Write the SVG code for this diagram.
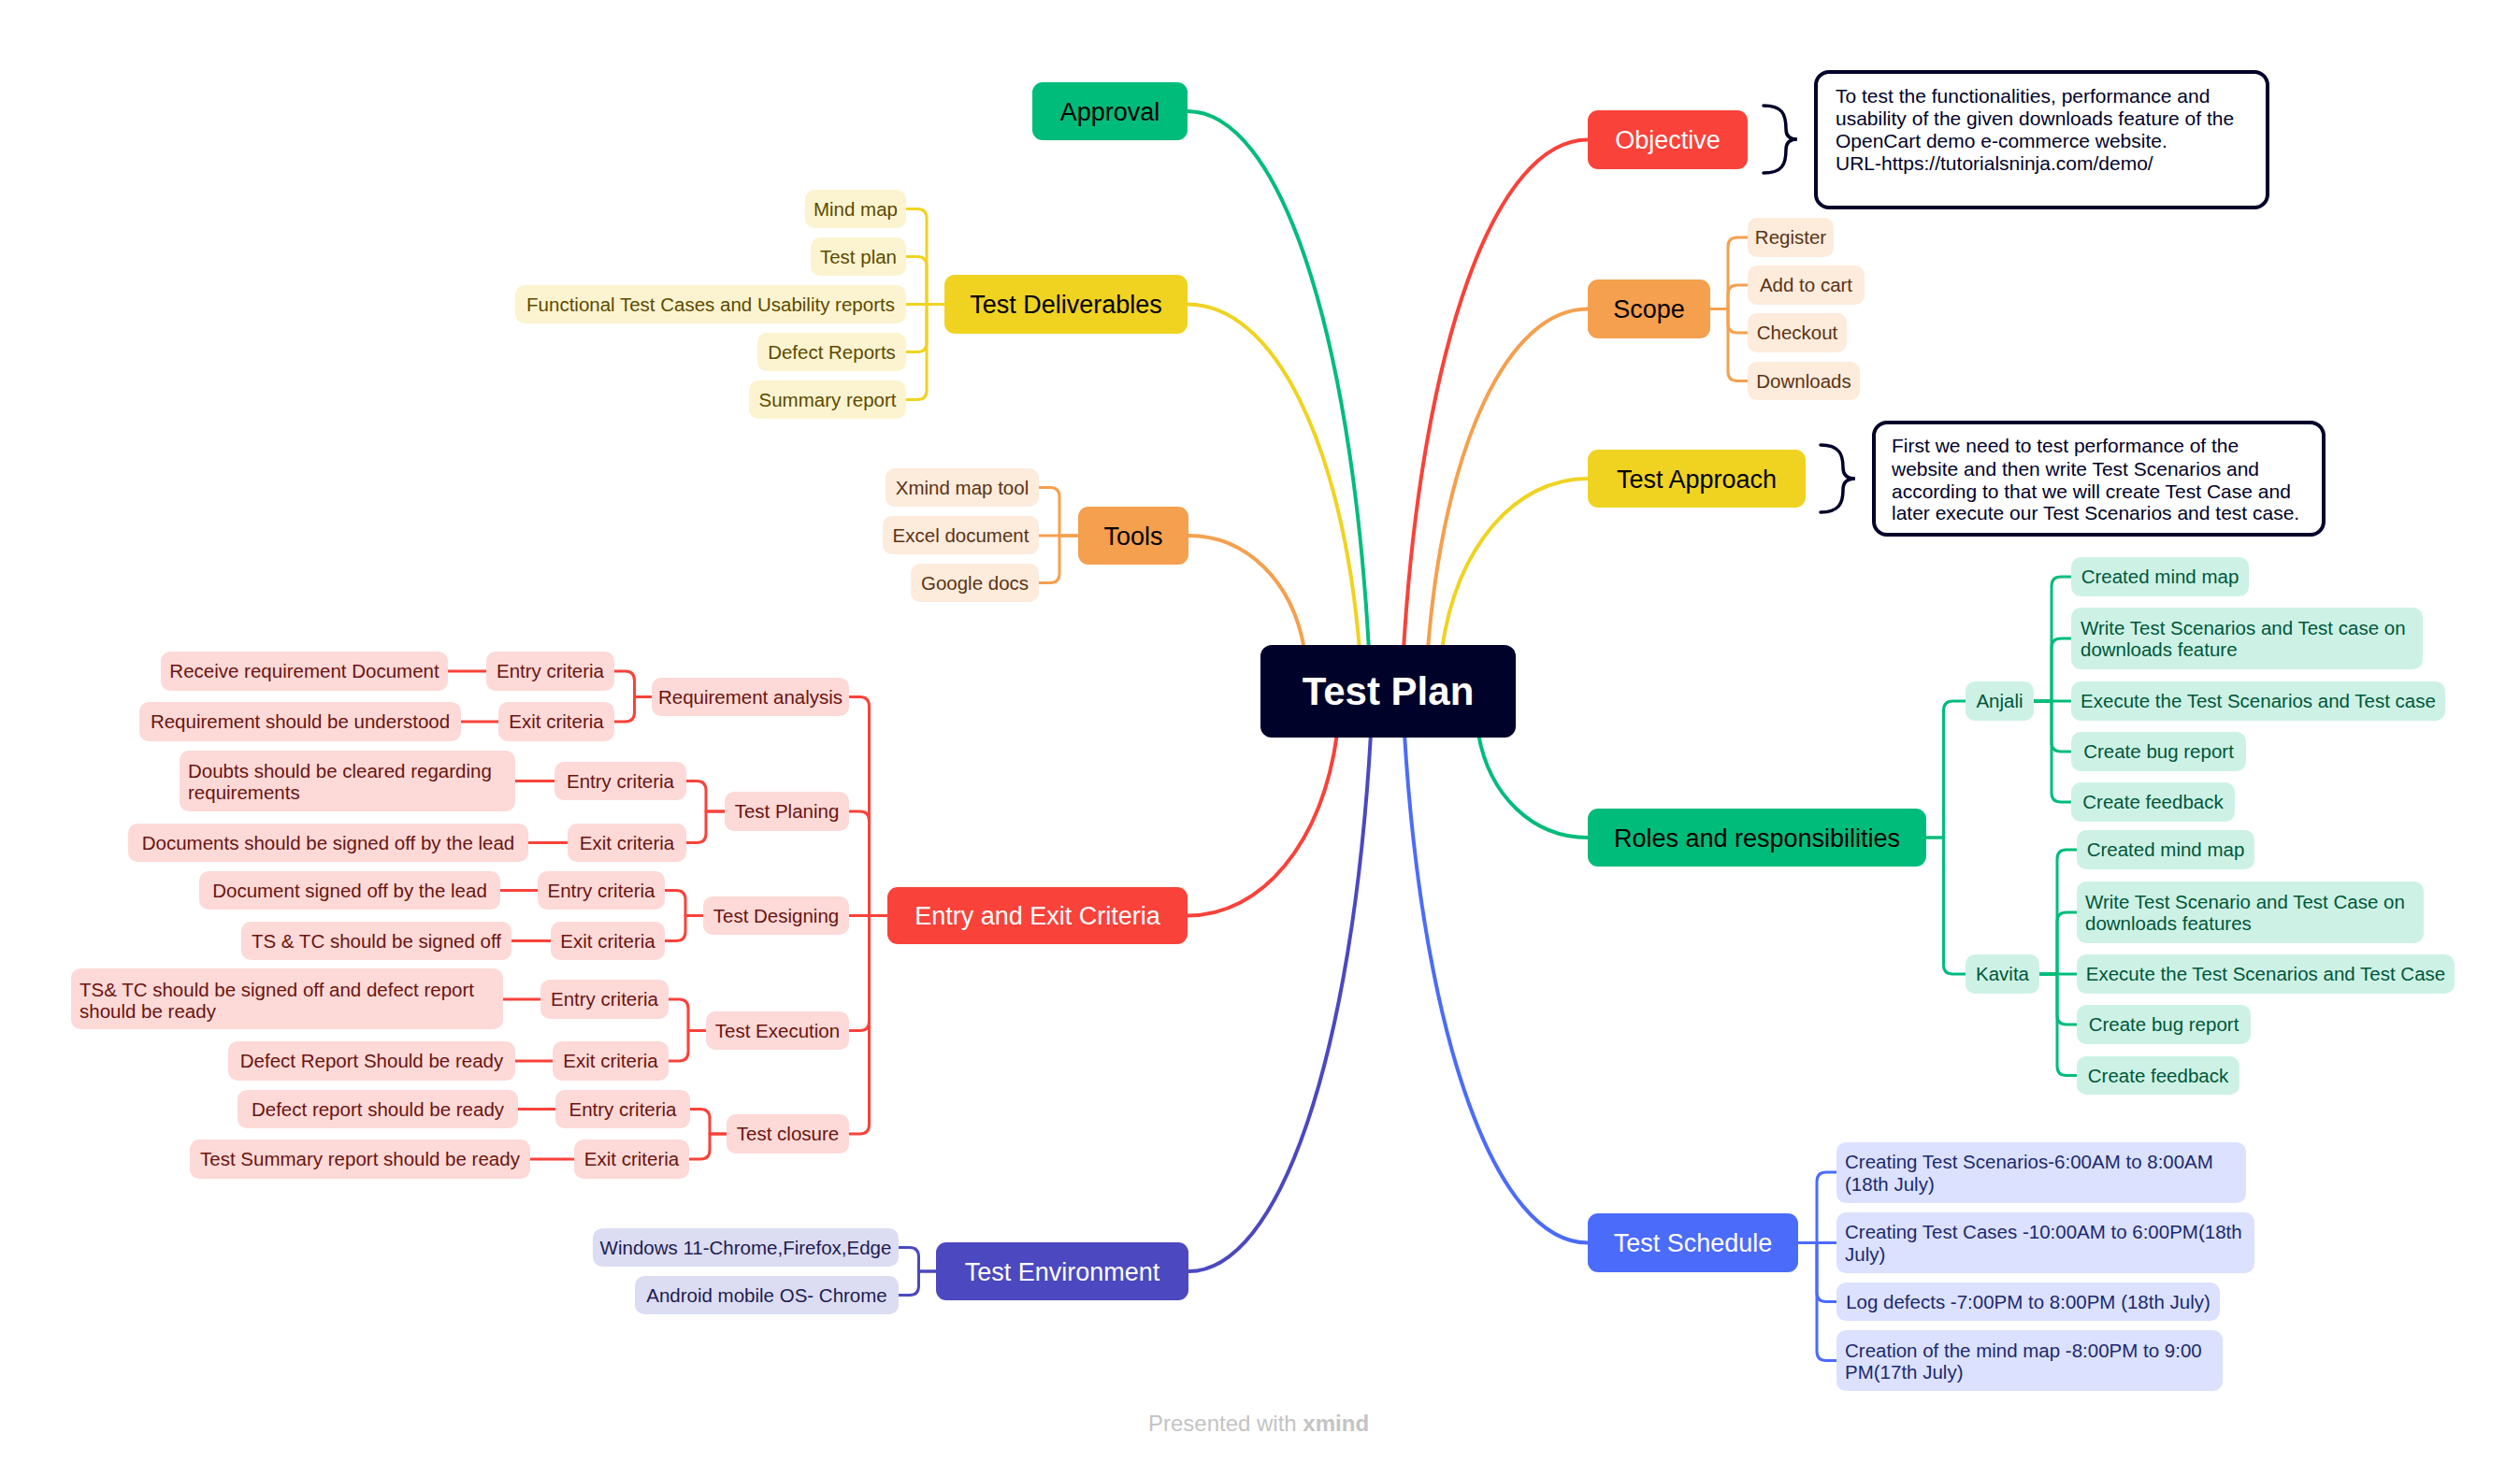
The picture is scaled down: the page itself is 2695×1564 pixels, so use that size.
<svg xmlns="http://www.w3.org/2000/svg" width="2695" height="1564" viewBox="0 0 2695 1564">
<style>
text{font-family:"Liberation Sans",Arial,sans-serif}
.mt{font-size:27px}
.st{font-size:20.5px}
.nt{font-size:21px;fill:#000229}
.c{text-anchor:middle}
.w{fill:#ffffff}
.k{fill:#000000}
.cn path{fill:none;stroke-width:3;stroke-linecap:round;stroke-linejoin:round}
.cn path.main{stroke-width:4}
.sg{stroke:#00BC7B}.sy{stroke:#F0D321}.so{stroke:#F5A04E}.sr{stroke:#F9423A}.si{stroke:#4C48C0}.sb{stroke:#4B6BFB}
.ry rect{fill:#FCF4D0}.ry text{fill:#5C4A00}
.ro rect{fill:#FDEBDC}.ro text{fill:#5A3414}
.rr rect{fill:#FDD9D7}.rr text{fill:#6A1410}
.rg rect{fill:#CDF2E5}.rg text{fill:#00563A}
.rb rect{fill:#DBE1FE}.rb text{fill:#1B2A6E}
.ri rect{fill:#DCDCF3}.ri text{fill:#1E1C50}
.note{fill:#ffffff;stroke:#000229;stroke-width:4}
.brace{fill:none;stroke:#000229;stroke-width:3.5;stroke-linecap:round}
</style>
<rect width="2695" height="1564" fill="#ffffff"/>

<g id="connectors" class="cn">
  <path class="main sg" d="M1270,119 C1367,119 1444.6,348 1464,695"/>
  <path class="main sy" d="M1270,325.5 C1362,325.5 1435.6,473.3 1454,695"/>
  <path class="main so" d="M1271,573 C1333,573 1382.6,621.8 1395,695"/>
  <path class="main sr" d="M1270,979.5 C1350,979.5 1414,901.7 1430,785"/>
  <path class="main si" d="M1271,1360 C1368.5,1360 1446.5,1130 1466,785"/>
  <path class="main sr" d="M1698,149.5 C1599.5,149.5 1520.7,367.7 1501,695"/>
  <path class="main so" d="M1698,330.5 C1612.5,330.5 1544.1,476.3 1527,695"/>
  <path class="main sy" d="M1698,512 C1620,512 1557.6,585.2 1542,695"/>
  <path class="main sg" d="M1698,896 C1639.5,896 1592.7,851.6 1581,785"/>
  <path class="main sb" d="M1698,1329.5 C1600,1329.5 1521.6,1111.7 1502,785"/>

  <path class="so" d="M1829,330.5 H1848 V264 Q1848,254 1858,254 H1869"/>
  <path class="so" d="M1829,330.5 H1848 V315 Q1848,305 1858,305 H1869"/>
  <path class="so" d="M1829,330.5 H1848 V346 Q1848,356 1858,356 H1869"/>
  <path class="so" d="M1829,330.5 H1848 V397.5 Q1848,407.5 1858,407.5 H1869"/>

  <path class="sg" d="M2060,896 H2078.5 V760 Q2078.5,750 2088.5,750 H2102"/>
  <path class="sg" d="M2060,896 H2078.5 V1032 Q2078.5,1042 2088.5,1042 H2102"/>

  <path class="sg" d="M2175,750 H2194 V627 Q2194,617 2204,617 H2215"/>
  <path class="sg" d="M2175,750 H2194 V693 Q2194,683 2204,683 H2215"/>
  <path class="sg" d="M2175,750 H2215"/>
  <path class="sg" d="M2175,750 H2194 V794 Q2194,804 2204,804 H2215"/>
  <path class="sg" d="M2175,750 H2194 V848 Q2194,858 2204,858 H2215"/>

  <path class="sg" d="M2181,1042 H2200 V919 Q2200,909 2210,909 H2221"/>
  <path class="sg" d="M2181,1042 H2200 V986 Q2200,976 2210,976 H2221"/>
  <path class="sg" d="M2181,1042 H2221"/>
  <path class="sg" d="M2181,1042 H2200 V1086 Q2200,1096 2210,1096 H2221"/>
  <path class="sg" d="M2181,1042 H2200 V1140.5 Q2200,1150.5 2210,1150.5 H2221"/>

  <path class="sb" d="M1923,1329.5 H1943 V1264 Q1943,1254 1953,1254 H1964"/>
  <path class="sb" d="M1923,1329.5 H1964"/>
  <path class="sb" d="M1923,1329.5 H1943 V1382.5 Q1943,1392.5 1953,1392.5 H1964"/>
  <path class="sb" d="M1923,1329.5 H1943 V1445.5 Q1943,1455.5 1953,1455.5 H1964"/>

  <path class="sy" d="M1010,325.5 H991 V233.5 Q991,223.5 981,223.5 H969"/>
  <path class="sy" d="M1010,325.5 H991 V284.5 Q991,274.5 981,274.5 H969"/>
  <path class="sy" d="M1010,325.5 H969"/>
  <path class="sy" d="M1010,325.5 H991 V366.5 Q991,376.5 981,376.5 H969"/>
  <path class="sy" d="M1010,325.5 H991 V417.5 Q991,427.5 981,427.5 H969"/>

  <path class="so" d="M1153,573 H1133 V531.5 Q1133,521.5 1123,521.5 H1111"/>
  <path class="so" d="M1153,573 H1111"/>
  <path class="so" d="M1153,573 H1133 V613.5 Q1133,623.5 1123,623.5 H1111"/>

  <path class="sr" d="M949,979.5 H929.5 V755.5 Q929.5,745.5 919.5,745.5 H908"/>
  <path class="sr" d="M949,979.5 H929.5 V878 Q929.5,868 919.5,868 H908"/>
  <path class="sr" d="M949,979.5 H908"/>
  <path class="sr" d="M949,979.5 H929.5 V1092.5 Q929.5,1102.5 919.5,1102.5 H908"/>
  <path class="sr" d="M949,979.5 H929.5 V1203 Q929.5,1213 919.5,1213 H908"/>

  <path class="sr" d="M697,745.5 H678.5 V728 Q678.5,718 668.5,718 H657"/>
  <path class="sr" d="M697,745.5 H678.5 V762 Q678.5,772 668.5,772 H657"/>
  <path class="sr" d="M775,868 H755 V845.5 Q755,835.5 745,835.5 H734"/>
  <path class="sr" d="M775,868 H755 V891.5 Q755,901.5 745,901.5 H734"/>
  <path class="sr" d="M752,979.5 H733 V962.5 Q733,952.5 723,952.5 H711"/>
  <path class="sr" d="M752,979.5 H733 V996.5 Q733,1006.5 723,1006.5 H711"/>
  <path class="sr" d="M755,1102.5 H736 V1079 Q736,1069 726,1069 H715"/>
  <path class="sr" d="M755,1102.5 H736 V1125 Q736,1135 726,1135 H715"/>
  <path class="sr" d="M777,1213 H759 V1196.5 Q759,1186.5 749,1186.5 H737"/>
  <path class="sr" d="M777,1213 H759 V1230 Q759,1240 749,1240 H737"/>

  <path class="sr" d="M520,718 H479"/>
  <path class="sr" d="M533,772 H493"/>
  <path class="sr" d="M593,835.5 H551"/>
  <path class="sr" d="M607,901.5 H565"/>
  <path class="sr" d="M575,952.5 H535"/>
  <path class="sr" d="M589,1006.5 H547"/>
  <path class="sr" d="M578,1069 H538"/>
  <path class="sr" d="M591,1135 H551"/>
  <path class="sr" d="M594,1186.5 H554"/>
  <path class="sr" d="M614,1240 H567"/>

  <path class="si" d="M1001,1360 H982.5 V1344.5 Q982.5,1334.5 972.5,1334.5 H961"/>
  <path class="si" d="M1001,1360 H982.5 V1375.5 Q982.5,1385.5 972.5,1385.5 H961"/>
</g>

<g id="test-plan"><rect x="1348" y="690" width="273" height="99" rx="12" fill="#000229"/><text class="c w" x="1484.5" y="754" font-size="42" font-weight="bold">Test Plan</text></g>

<g id="approval"><rect x="1104" y="88" width="166" height="62" rx="11" fill="#00BC7B"/><text class="mt c k" x="1187" y="128.5">Approval</text></g>
<g id="test-deliverables"><rect x="1010" y="294" width="260" height="63" rx="11" fill="#F0D321"/><text class="mt c k" x="1140" y="335">Test Deliverables</text></g>
<g id="tools"><rect x="1153" y="542" width="118" height="62" rx="11" fill="#F5A04E"/><text class="mt c k" x="1212" y="582.5">Tools</text></g>
<g id="entry-exit"><rect x="949" y="949" width="321" height="61" rx="11" fill="#F9423A"/><text class="mt c w" x="1109.5" y="989">Entry and Exit Criteria</text></g>
<g id="test-environment"><rect x="1001" y="1329" width="270" height="62" rx="11" fill="#4C48C0"/><text class="mt c w" x="1136" y="1369.5">Test Environment</text></g>
<g id="objective"><rect x="1698" y="118" width="171" height="63" rx="11" fill="#F9423A"/><text class="mt c w" x="1783.5" y="159">Objective</text></g>
<g id="scope"><rect x="1698" y="299" width="131" height="63" rx="11" fill="#F5A04E"/><text class="mt c k" x="1763.5" y="340">Scope</text></g>
<g id="test-approach"><rect x="1698" y="481" width="233" height="62" rx="11" fill="#F0D321"/><text class="mt c k" x="1814.5" y="521.5">Test Approach</text></g>
<g id="roles"><rect x="1698" y="865" width="362" height="62" rx="11" fill="#00BC7B"/><text class="mt c k" x="1879" y="905.5">Roles and responsibilities</text></g>
<g id="test-schedule"><rect x="1698" y="1298" width="225" height="63" rx="11" fill="#4B6BFB"/><text class="mt c w" x="1810.5" y="1339">Test Schedule</text></g>

<g id="objective-note">
  <path class="brace" d="M1886,113 C1906,113 1910,122 1910,138 Q1910,149 1922,149 Q1910,149 1910,160 C1910,176 1906,185 1886,185"/>
  <rect class="note" x="1942" y="77" width="483" height="145" rx="14"/>
  <text class="nt" x="1963" y="110">To test the functionalities, performance and</text>
  <text class="nt" x="1963" y="134">usability of the given downloads feature of the</text>
  <text class="nt" x="1963" y="158">OpenCart demo e-commerce website.</text>
  <text class="nt" x="1963" y="182">URL-https://tutorialsninja.com/demo/</text>
</g>
<g id="approach-note">
  <path class="brace" d="M1947,476 C1967,476 1971,486 1971,500 Q1971,512 1984,512 Q1971,512 1971,524 C1971,538 1967,548 1947,548"/>
  <rect class="note" x="2004" y="452" width="481" height="120" rx="14"/>
  <text class="nt" x="2023" y="484">First we need to test performance of the</text>
  <text class="nt" x="2023" y="508.5">website and then write Test Scenarios and</text>
  <text class="nt" x="2023" y="532.5">according to that we will create Test Case and</text>
  <text class="nt" x="2023" y="556">later execute our Test Scenarios and test case.</text>
</g>

<g class="ro">
  <g id="scope-register"><rect x="1869" y="233" width="92" height="42" rx="10"/><text class="st c" x="1915" y="261">Register</text></g>
  <g id="scope-addtocart"><rect x="1869" y="284" width="125" height="42" rx="10"/><text class="st c" x="1931.5" y="312">Add to cart</text></g>
  <g id="scope-checkout"><rect x="1869" y="335" width="106" height="42" rx="10"/><text class="st c" x="1922" y="363">Checkout</text></g>
  <g id="scope-downloads"><rect x="1869" y="387" width="120" height="41" rx="10"/><text class="st c" x="1929" y="414.5">Downloads</text></g>
  <g id="tools-xmind"><rect x="947" y="501" width="164" height="41" rx="10"/><text class="st c" x="1029" y="528.5">Xmind map tool</text></g>
  <g id="tools-excel"><rect x="944" y="552" width="167" height="41" rx="10"/><text class="st c" x="1027.5" y="579.5">Excel document</text></g>
  <g id="tools-google"><rect x="974" y="603" width="137" height="41" rx="10"/><text class="st c" x="1042.5" y="630.5">Google docs</text></g>
</g>

<g class="rg">
  <g id="anjali"><rect x="2102" y="729" width="73" height="42" rx="10"/><text class="st c" x="2138.5" y="757">Anjali</text></g>
  <g id="anjali-1"><rect x="2215" y="596" width="190" height="42" rx="10"/><text class="st c" x="2310" y="624">Created mind map</text></g>
  <g id="anjali-2"><rect x="2215" y="650" width="376" height="66" rx="10"/><text class="st" x="2225" y="679">Write Test Scenarios and Test case on</text><text class="st" x="2225" y="702">downloads feature</text></g>
  <g id="anjali-3"><rect x="2215" y="729" width="400" height="42" rx="10"/><text class="st c" x="2415" y="757">Execute the Test Scenarios and Test case</text></g>
  <g id="anjali-4"><rect x="2215" y="783" width="187" height="42" rx="10"/><text class="st c" x="2308.5" y="811">Create bug report</text></g>
  <g id="anjali-5"><rect x="2215" y="837" width="175" height="42" rx="10"/><text class="st c" x="2302.5" y="865">Create feedback</text></g>
  <g id="kavita"><rect x="2102" y="1021" width="79" height="42" rx="10"/><text class="st c" x="2141.5" y="1049">Kavita</text></g>
  <g id="kavita-1"><rect x="2221" y="888" width="190" height="42" rx="10"/><text class="st c" x="2316" y="916">Created mind map</text></g>
  <g id="kavita-2"><rect x="2221" y="943" width="371" height="66" rx="10"/><text class="st" x="2230" y="972">Write Test Scenario and Test Case on</text><text class="st" x="2230" y="995">downloads features</text></g>
  <g id="kavita-3"><rect x="2221" y="1021" width="404" height="42" rx="10"/><text class="st c" x="2423" y="1049">Execute the Test Scenarios and Test Case</text></g>
  <g id="kavita-4"><rect x="2221" y="1075" width="186" height="42" rx="10"/><text class="st c" x="2314" y="1103">Create bug report</text></g>
  <g id="kavita-5"><rect x="2221" y="1130" width="174" height="41" rx="10"/><text class="st c" x="2308" y="1157.5">Create feedback</text></g>
</g>

<g class="rb">
  <g id="sched-1"><rect x="1964" y="1222" width="438" height="65" rx="10"/><text class="st" x="1973" y="1250">Creating Test Scenarios-6:00AM to 8:00AM</text><text class="st" x="1973" y="1274">(18th July)</text></g>
  <g id="sched-2"><rect x="1964" y="1297" width="447" height="65" rx="10"/><text class="st" x="1973" y="1325">Creating Test Cases -10:00AM to 6:00PM(18th</text><text class="st" x="1973" y="1349">July)</text></g>
  <g id="sched-3"><rect x="1964" y="1372" width="410" height="41" rx="10"/><text class="st c" x="2169" y="1399.5">Log defects -7:00PM to 8:00PM (18th July)</text></g>
  <g id="sched-4"><rect x="1964" y="1423" width="413" height="65" rx="10"/><text class="st" x="1973" y="1452">Creation of the mind map -8:00PM to 9:00</text><text class="st" x="1973" y="1475">PM(17th July)</text></g>
</g>

<g class="ry">
  <g id="deliv-1"><rect x="861" y="203" width="108" height="41" rx="10"/><text class="st c" x="915" y="230.5">Mind map</text></g>
  <g id="deliv-2"><rect x="867" y="254" width="102" height="41" rx="10"/><text class="st c" x="918" y="281.5">Test plan</text></g>
  <g id="deliv-3"><rect x="551" y="305" width="418" height="41" rx="10"/><text class="st c" x="760" y="332.5">Functional Test Cases and Usability reports</text></g>
  <g id="deliv-4"><rect x="810" y="356" width="159" height="41" rx="10"/><text class="st c" x="889.5" y="383.5">Defect Reports</text></g>
  <g id="deliv-5"><rect x="801" y="407" width="168" height="41" rx="10"/><text class="st c" x="885" y="434.5">Summary report</text></g>
</g>

<g class="rr">
  <g id="req-analysis"><rect x="697" y="725" width="211" height="41" rx="10"/><text class="st c" x="802.5" y="752.5">Requirement analysis</text></g>
  <g id="ra-entry"><rect x="520" y="697" width="137" height="42" rx="10"/><text class="st c" x="588.5" y="725">Entry criteria</text></g>
  <g id="ra-exit"><rect x="533" y="751" width="124" height="42" rx="10"/><text class="st c" x="595" y="779">Exit criteria</text></g>
  <g id="ra-entry-d"><rect x="172" y="697" width="307" height="42" rx="10"/><text class="st c" x="325.5" y="725">Receive requirement Document</text></g>
  <g id="ra-exit-d"><rect x="149" y="751" width="344" height="42" rx="10"/><text class="st c" x="321" y="779">Requirement should be understood</text></g>

  <g id="test-planing"><rect x="775" y="847" width="133" height="42" rx="10"/><text class="st c" x="841.5" y="875">Test Planing</text></g>
  <g id="tp-entry"><rect x="593" y="815" width="141" height="41" rx="10"/><text class="st c" x="663.5" y="842.5">Entry criteria</text></g>
  <g id="tp-exit"><rect x="607" y="881" width="127" height="41" rx="10"/><text class="st c" x="670.5" y="908.5">Exit criteria</text></g>
  <g id="tp-entry-d"><rect x="192" y="803" width="359" height="65" rx="10"/><text class="st" x="201" y="832">Doubts should be cleared regarding</text><text class="st" x="201" y="855">requirements</text></g>
  <g id="tp-exit-d"><rect x="137" y="881" width="428" height="41" rx="10"/><text class="st c" x="351" y="908.5">Documents should be signed off by the lead</text></g>

  <g id="test-designing"><rect x="752" y="959" width="156" height="41" rx="10"/><text class="st c" x="830" y="986.5">Test Designing</text></g>
  <g id="td-entry"><rect x="575" y="932" width="136" height="41" rx="10"/><text class="st c" x="643" y="959.5">Entry criteria</text></g>
  <g id="td-exit"><rect x="589" y="986" width="122" height="41" rx="10"/><text class="st c" x="650" y="1013.5">Exit criteria</text></g>
  <g id="td-entry-d"><rect x="213" y="932" width="322" height="41" rx="10"/><text class="st c" x="374" y="959.5">Document signed off by the lead</text></g>
  <g id="td-exit-d"><rect x="258" y="986" width="289" height="41" rx="10"/><text class="st c" x="402.5" y="1013.5">TS &amp; TC should be signed off</text></g>

  <g id="test-execution"><rect x="755" y="1082" width="153" height="41" rx="10"/><text class="st c" x="831.5" y="1109.5">Test Execution</text></g>
  <g id="te-entry"><rect x="578" y="1048" width="137" height="42" rx="10"/><text class="st c" x="646.5" y="1076">Entry criteria</text></g>
  <g id="te-exit"><rect x="591" y="1114" width="124" height="42" rx="10"/><text class="st c" x="653" y="1142">Exit criteria</text></g>
  <g id="te-entry-d"><rect x="76" y="1036" width="462" height="65" rx="10"/><text class="st" x="85" y="1066">TS&amp; TC should be signed off and defect report</text><text class="st" x="85" y="1089">should be ready</text></g>
  <g id="te-exit-d"><rect x="244" y="1114" width="307" height="42" rx="10"/><text class="st c" x="397.5" y="1142">Defect Report Should be ready</text></g>

  <g id="test-closure"><rect x="777" y="1192" width="131" height="42" rx="10"/><text class="st c" x="842.5" y="1220">Test closure</text></g>
  <g id="tc-entry"><rect x="594" y="1166" width="144" height="41" rx="10"/><text class="st c" x="666" y="1193.5">Entry criteria</text></g>
  <g id="tc-exit"><rect x="614" y="1219" width="123" height="42" rx="10"/><text class="st c" x="675.5" y="1247">Exit criteria</text></g>
  <g id="tc-entry-d"><rect x="254" y="1166" width="300" height="41" rx="10"/><text class="st c" x="404" y="1193.5">Defect report should be ready</text></g>
  <g id="tc-exit-d"><rect x="203" y="1219" width="364" height="42" rx="10"/><text class="st c" x="385" y="1247">Test Summary report should be ready</text></g>
</g>

<g class="ri">
  <g id="env-1"><rect x="634" y="1314" width="327" height="41" rx="10"/><text class="st c" x="797.5" y="1341.5">Windows 11-Chrome,Firefox,Edge</text></g>
  <g id="env-2"><rect x="679" y="1365" width="282" height="41" rx="10"/><text class="st c" x="820" y="1392.5">Android mobile OS- Chrome</text></g>
</g>

<text x="1346" y="1531" text-anchor="middle" font-size="24" fill="#C4C4C4">Presented with <tspan font-weight="bold">xmind</tspan></text>
</svg>
